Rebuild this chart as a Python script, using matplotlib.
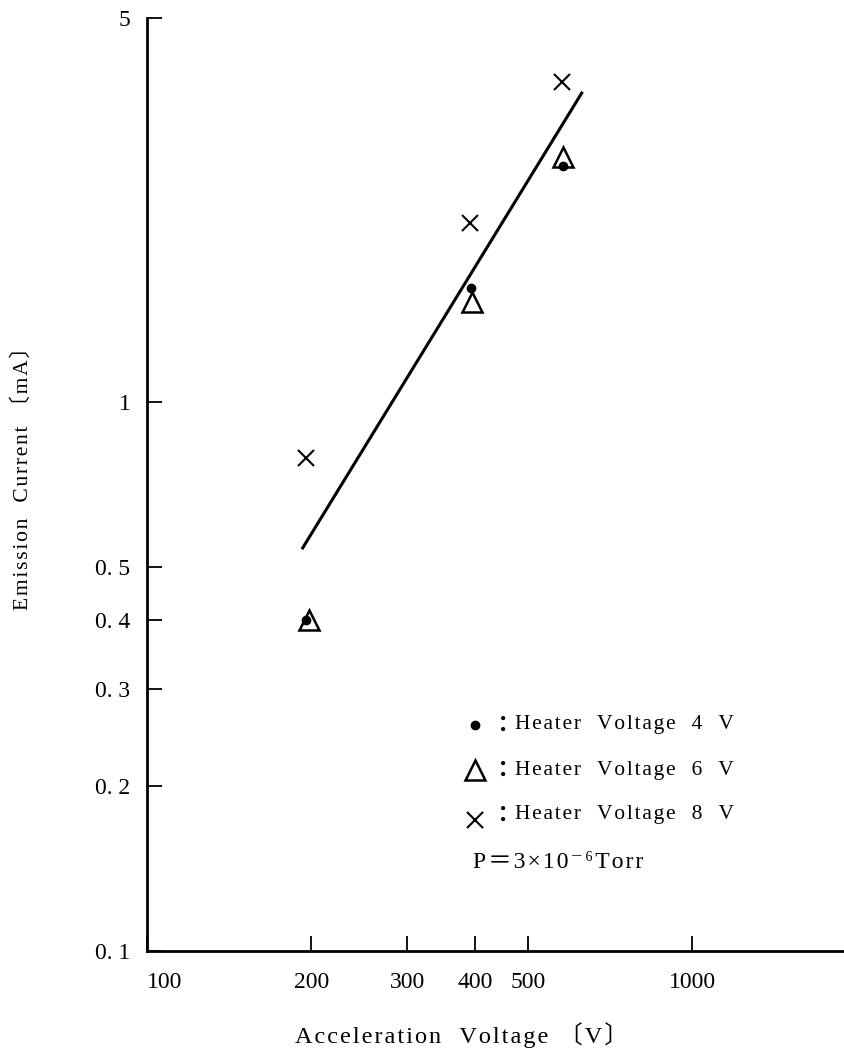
import matplotlib
matplotlib.use("Agg")
import matplotlib.pyplot as plt
from matplotlib.lines import Line2D
from matplotlib.ticker import FixedLocator, FixedFormatter, NullLocator

plt.rcParams['font.family'] = ['Liberation Serif', 'DejaVu Serif', 'Noto Sans CJK JP']

# Emission current [mA] against acceleration voltage [V], one series per heater voltage
v_4v = [196, 393, 579]
i_4v = [0.40, 1.61, 2.69]
v_6v = [198, 394, 580]
i_6v = [0.40, 1.52, 2.79]
v_8v = [196, 392, 578]
i_8v = [0.79, 2.12, 3.83]

# straight-line fit through the points
fit_v = [193, 627]
fit_i = [0.542, 3.65]

x_ticks = [100, 200, 300, 400, 500, 1000]
x_labels = ['100', '200', '300', '400', '500', '1000']
y_ticks = [0.1, 0.2, 0.3, 0.4, 0.5, 1, 5]
y_labels = ['0. 1', '0. 2', '0. 3', '0. 4', '0. 5', '1', '5']

W, H = 844, 1053


def px(x, y):
    # pixel position -> figure fraction
    return x / W, 1 - y / H


def spaced(s, gap='\u200a'):
    # wide letter spacing like the typeset original
    return gap.join(s)


fig = plt.figure(figsize=(W / 100, H / 100), dpi=100)
ax = fig.add_axes([147 / W, 1 - 951 / H, (843 - 147) / W, (951 - 18) / H])
ax.set_xscale('log')
ax.set_yscale('log')
ax.set_xlim(100, 1890)
ax.set_ylim(0.1, 5)

ax.plot(fit_v, fit_i, '-', color='k', lw=2.2)
ax.plot(v_4v, i_4v, 'o', color='k', ms=6)
ax.plot(v_6v, i_6v, '^', mfc='none', mec='k', ms=14, mew=1.8)
ax.plot(v_8v, i_8v, 'x', color='k', ms=12, mew=1.5)

for side in ['top', 'right']:
    ax.spines[side].set_visible(False)
for side in ['left', 'bottom']:
    ax.spines[side].set_linewidth(2)

ax.xaxis.set_major_locator(FixedLocator(x_ticks))
ax.xaxis.set_major_formatter(FixedFormatter(x_labels))
ax.yaxis.set_major_locator(FixedLocator(y_ticks))
ax.yaxis.set_major_formatter(FixedFormatter(y_labels))
ax.xaxis.set_minor_locator(NullLocator())
ax.yaxis.set_minor_locator(NullLocator())
ax.tick_params(direction='in', length=11, width=1.3, labelsize=17)
ax.tick_params(axis='x', pad=15)
ax.tick_params(axis='y', pad=12)
# the "100" label sits a little right of the corner
ax.get_xticklabels()[0].set_ha('left')

# axis titles
fig.text(*px(23, 473), spaced('Emission  Current 〔mA〕'), rotation=90,
         ha='center', va='center', fontsize=15.5)
fig.text(*px(462, 1035), spaced('Acceleration  Voltage 〔V〕'),
         ha='center', va='center', fontsize=17.5)

# key
rows = [('o', dict(ms=6, color='k'), '4'),
        ('^', dict(ms=14, mfc='none', mec='k', mew=1.8), '6'),
        ('x', dict(ms=12, mew=1.5, color='k'), '8')]
for k, (m, kw, hv) in enumerate(rows):
    y = 725 + 45 * k
    mx, my = px(475, y + (5 if m == 'x' else 0))
    fig.add_artist(Line2D([mx], [my], marker=m, transform=fig.transFigure, **kw))
    fig.text(*px(492, y), '：', ha='left', va='center', fontsize=16,
             family=['Noto Sans CJK JP'], weight='bold')
    fig.text(*px(515, y), spaced('Heater  Voltage  ' + hv + '  V'),
             ha='left', va='center', fontsize=15.5)
fig.text(*px(473, 862), spaced('P＝3×10⁻⁶Torr'), ha='left', va='center', fontsize=17)

fig.savefig('out.png', dpi=100)
